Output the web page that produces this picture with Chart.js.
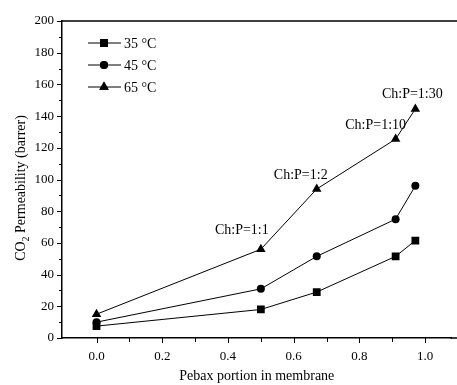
<!DOCTYPE html>
<html>
<head>
<meta charset="utf-8">
<script src="https://cdn.jsdelivr.net/npm/chart.js@4.4.1/dist/chart.umd.min.js"></script>
<style>
  html, body { margin: 0; padding: 0; background: #fff; }
  #wrap { width: 457px; height: 385px; }
</style>
</head>
<body>
<div id="wrap"><canvas id="permChart" width="457" height="385"></canvas></div>
<script>
// data
const pebax = [0, 0.5, 0.67, 0.91, 0.97];
const perm35 = [7.5, 18, 29, 51.5, 61.5];
const perm45 = [10, 31, 51.5, 75, 96];
const perm65 = [15, 56, 94, 125.5, 144.5];
const seriesNames = ['35 °C', '45 °C', '65 °C'];
const ratioLabels = ['', 'Ch:P=1:1', 'Ch:P=1:2', 'Ch:P=1:10', 'Ch:P=1:30'];
const xTicks = [0, 0.2, 0.4, 0.6, 0.8, 1.0];
const yTicks = [0, 20, 40, 60, 80, 100, 120, 140, 160, 180, 200];

const FONT = "'Liberation Serif', 'Times New Roman', serif";

function pts(ys) {
  return pebax.map((x, i) => ({ x: x, y: ys[i] }));
}

const extras = {
  id: 'extras',
  afterDraw(chart) {
    const c = chart.ctx;
    const a = chart.chartArea;
    const xs = chart.scales.x, ys = chart.scales.y;
    c.save();
    c.strokeStyle = '#000';
    c.fillStyle = '#000';

    // top frame line, and bottom axis carried to the cropped edge
    c.lineWidth = 1.5;
    c.beginPath();
    c.moveTo(a.left, a.top);
    c.lineTo(chart.width, a.top);
    c.moveTo(a.right - 1, a.bottom);
    c.lineTo(chart.width, a.bottom);
    c.stroke();

    // tick marks, major and minor
    c.lineWidth = 1;
    for (let v = 0; v <= 200; v += 10) {
      const p = Math.round(ys.getPixelForValue(v)) + 0.5;
      const len = v % 20 === 0 ? 5 : 3;
      c.beginPath();
      c.moveTo(a.left - len, p);
      c.lineTo(a.left, p);
      c.stroke();
    }
    for (let k = 0; k <= 10; k++) {
      const v = k / 10;
      const p = Math.round(xs.getPixelForValue(v)) + 0.5;
      const len = k % 2 === 0 ? 5 : 4;
      c.beginPath();
      c.moveTo(p, a.bottom);
      c.lineTo(p, a.bottom + len);
      c.stroke();
    }

    // y title with a real subscript
    c.save();
    c.translate(21, 188);
    c.rotate(-Math.PI / 2);
    c.textBaseline = 'middle';
    c.textAlign = 'left';
    const big = '14px ' + FONT, small = '10px ' + FONT;
    const rest = ' Permeability (barrer)';
    c.font = big;
    const wCO = c.measureText('CO').width, wRest = c.measureText(rest).width;
    c.font = small;
    const w2 = c.measureText('2').width;
    let x0 = -(wCO + w2 + wRest) / 2;
    c.font = big;
    c.fillText('CO', x0, 0);
    c.font = small;
    c.fillText('2', x0 + wCO, 5);
    c.font = big;
    c.fillText(rest, x0 + wCO + w2, 0);
    c.restore();

    // legend
    c.font = '14px ' + FONT;
    c.textBaseline = 'middle';
    c.textAlign = 'left';
    chart.data.datasets.forEach((ds, i) => {
      const y = 43 + i * 22;
      c.lineWidth = 1;
      c.beginPath();
      c.moveTo(88, y);
      c.lineTo(121, y);
      c.stroke();
      Chart.helpers.drawPoint(c, {
        pointStyle: ds.pointStyle, radius: ds.pointRadius, borderWidth: 0, rotation: 0
      }, 104, y);
      c.fillStyle = '#000';
      c.fill();
      c.fillText(ds.label, 124, y + 1);
    });

    // ratio annotations above the 65 °C points
    const offs = [null, [-19, -19], [-16, -14], [-20, -14], [-3, -15]];
    c.textAlign = 'center';
    ratioLabels.forEach((t, i) => {
      if (!t) return;
      const px = xs.getPixelForValue(pebax[i]);
      const py = ys.getPixelForValue(perm65[i]);
      c.fillText(t, px + offs[i][0], py + offs[i][1]);
    });
    c.restore();
  }
};

function makeSet(label, ys, style, r) {
  return {
    label: label,
    data: pts(ys),
    borderColor: '#000',
    backgroundColor: '#000',
    borderWidth: 1,
    pointStyle: style,
    pointRadius: r,
    pointBorderWidth: 0,
    pointBackgroundColor: '#000',
    tension: 0
  };
}

new Chart(document.getElementById('permChart'), {
  type: 'line',
  data: {
    datasets: [
      makeSet(seriesNames[0], perm35, 'rect', 5.5),
      makeSet(seriesNames[1], perm45, 'circle', 4),
      makeSet(seriesNames[2], perm65, 'triangle', 5.5)
    ]
  },
  options: {
    responsive: false,
    animation: false,
    layout: { padding: { top: 21, right: 0, left: 0, bottom: 0 } },
    plugins: {
      legend: { display: false },
      tooltip: { enabled: false }
    },
    scales: {
      x: {
        type: 'linear',
        min: -0.105,
        max: 1.08,
        afterBuildTicks: s => { s.ticks = xTicks.map(v => ({ value: v })); },
        afterFit: s => { s.height = 47; s.paddingLeft = 0; s.paddingRight = 0; },
        grid: { display: true, drawOnChartArea: false, drawTicks: false },
        border: { display: true, color: '#000', width: 1.5 },
        ticks: {
          color: '#000',
          padding: 11,
          maxRotation: 0,
          font: { family: FONT, size: 13 },
          callback: v => v.toFixed(1)
        },
        title: {
          display: true,
          text: 'Pebax portion in membrane',
          color: '#000',
          padding: { top: 0, bottom: 0 },
          font: { family: FONT, size: 14 }
        }
      },
      y: {
        min: 0,
        max: 200,
        afterBuildTicks: s => { s.ticks = yTicks.map(v => ({ value: v })); },
        afterFit: s => { s.width = 62; },
        grid: { display: true, drawOnChartArea: false, drawTicks: false },
        border: { display: true, color: '#000', width: 1.5 },
        ticks: {
          color: '#000',
          padding: 8,
          font: { family: FONT, size: 13 }
        },
        title: { display: false }
      }
    }
  },
  plugins: [extras]
});
</script>
</body>
</html>
